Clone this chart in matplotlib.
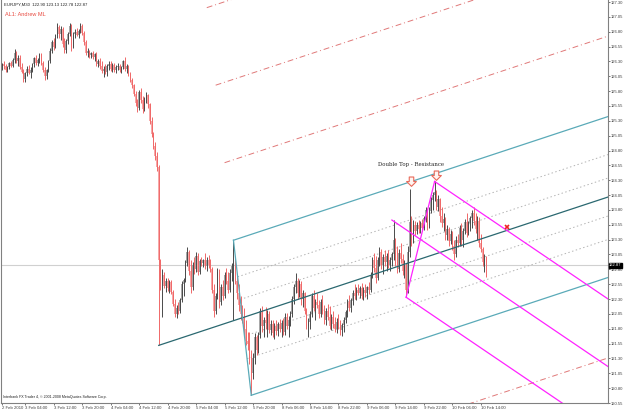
import matplotlib
matplotlib.use('Agg')
import matplotlib.pyplot as plt
import matplotlib.transforms as mtransforms
from matplotlib.path import Path
import numpy as np

# EURJPY M30 bars, 2 Feb 2010 - 10 Feb 2010
bar_open = [
    126.20, 126.25, 126.22, 126.15, 126.20, 126.27, 126.22, 126.33, 126.45, 126.30,
    126.36, 126.20, 126.12, 126.00, 126.10, 126.18, 126.10, 126.16, 126.25, 126.35,
    126.28, 126.32, 126.42, 126.27, 126.15, 126.05, 126.15, 126.30, 126.48, 126.62,
    126.55, 126.74, 126.88, 126.76, 126.85, 126.60, 126.50, 126.65, 126.76, 126.90,
    126.55, 126.76, 126.80, 126.75, 126.82, 126.90, 126.78, 126.62, 126.45, 126.48,
    126.40, 126.44, 126.38, 126.42, 126.26, 126.30, 126.22, 126.14, 126.18, 126.12,
    126.22, 126.26, 126.18, 126.24, 126.15, 126.20, 126.22, 126.16, 126.20, 126.30,
    126.18, 126.22, 126.08, 125.98, 125.90, 125.76, 125.60, 125.52, 125.78, 125.65,
    125.50, 125.66, 125.74, 125.58, 125.30, 125.08, 124.88, 124.70, 124.52, 122.95,
    122.60, 122.70, 122.52, 122.60, 122.48, 122.58, 122.42, 122.22, 122.05, 122.15,
    122.10, 122.28, 122.55, 122.62, 122.90, 123.10, 122.78, 122.50, 122.88, 122.80,
    123.02, 122.76, 122.94, 122.90, 122.95, 122.85, 122.96, 122.88, 122.80, 122.45,
    122.10, 122.35, 122.75, 122.25, 122.50, 122.35, 122.70, 122.60, 122.45, 122.74,
    122.85, 122.95, 122.60, 122.40, 122.20, 122.05, 121.98, 121.80, 121.60, 121.55,
    121.30, 121.05, 121.30, 121.66, 121.45, 121.70, 122.10, 121.85, 121.95, 121.90,
    122.05, 121.78, 121.88, 121.72, 121.85, 121.76, 121.88, 121.80, 121.90, 121.75,
    122.00, 121.85, 121.95, 122.05, 122.30, 122.50, 122.60, 122.40, 122.55, 122.30,
    122.40, 122.10, 121.85, 121.92, 122.05, 122.35, 122.15, 122.25, 122.20, 122.05,
    122.25, 122.10, 121.95, 122.10, 122.00, 121.85, 122.00, 121.88, 121.80, 121.92,
    121.85, 121.78, 121.86, 121.95, 122.08, 122.25, 122.15, 122.28, 122.40, 122.35,
    122.46, 122.40, 122.48, 122.35, 122.45, 122.40, 122.50, 122.45, 122.70, 122.95,
    122.82, 122.65, 122.95, 123.10, 122.88, 123.00, 122.92, 123.02, 122.88, 122.95,
    123.05, 123.30, 122.95, 122.80, 123.08, 122.98, 122.78, 122.88, 122.45, 123.10,
    123.60, 123.30, 123.55, 123.45, 123.55, 123.48, 123.58, 123.50, 123.66, 123.80,
    123.55, 123.78, 123.96, 124.05, 124.10, 123.85, 123.98, 123.70, 123.58, 123.65,
    123.38, 123.48, 123.28, 123.40, 123.20, 123.05, 123.30, 123.25, 123.50, 123.30,
    123.45, 123.60, 123.42, 123.58, 123.66, 123.75, 123.62, 123.48, 123.62, 123.25,
    123.15, 122.92, 122.98,
]
bar_high = [
    126.28, 126.30, 126.26, 126.22, 126.29, 126.30, 126.35, 126.51, 126.48, 126.40,
    126.40, 126.27, 126.18, 126.12, 126.22, 126.24, 126.20, 126.28, 126.38, 126.40,
    126.36, 126.45, 126.44, 126.30, 126.20, 126.18, 126.32, 126.52, 126.66, 126.70,
    126.77, 126.94, 126.92, 126.90, 126.88, 126.70, 126.68, 126.80, 126.95, 126.93,
    126.80, 126.84, 126.86, 126.84, 126.95, 126.93, 126.82, 126.66, 126.52, 126.50,
    126.46, 126.48, 126.45, 126.46, 126.34, 126.36, 126.30, 126.22, 126.26, 126.25,
    126.30, 126.30, 126.28, 126.28, 126.24, 126.28, 126.26, 126.22, 126.33, 126.37,
    126.26, 126.24, 126.12, 126.02, 125.92, 125.80, 125.66, 125.82, 125.86, 125.72,
    125.70, 125.78, 125.76, 125.60, 125.36, 125.12, 124.95, 124.78, 124.55, 122.98,
    122.80, 122.75, 122.65, 122.66, 122.62, 122.62, 122.45, 122.30, 122.20, 122.25,
    122.32, 122.60, 122.66, 122.95, 123.17, 123.12, 122.96, 122.92, 123.00, 123.09,
    123.08, 122.98, 123.00, 122.98, 123.07, 123.00, 123.04, 122.98, 122.84, 122.55,
    122.40, 122.83, 122.80, 122.55, 122.62, 122.76, 122.83, 122.75, 122.80, 122.90,
    123.29, 123.00, 122.72, 122.55, 122.35, 122.20, 122.15, 121.95, 121.75, 121.75,
    121.45, 121.40, 121.72, 121.70, 121.75, 122.15, 122.18, 122.00, 122.16, 122.11,
    122.10, 121.94, 121.95, 121.90, 121.94, 121.92, 121.96, 121.94, 121.98, 122.06,
    122.06, 122.02, 122.10, 122.35, 122.55, 122.73, 122.66, 122.62, 122.60, 122.45,
    122.42, 122.15, 121.98, 122.10, 122.40, 122.45, 122.30, 122.40, 122.28, 122.30,
    122.36, 122.20, 122.15, 122.22, 122.18, 122.05, 122.10, 122.00, 121.98, 122.05,
    121.95, 121.90, 122.00, 122.12, 122.30, 122.36, 122.32, 122.45, 122.55, 122.50,
    122.56, 122.52, 122.57, 122.50, 122.55, 122.52, 122.58, 122.75, 123.00, 123.07,
    123.02, 123.00, 123.17, 123.15, 123.05, 123.12, 123.08, 123.12, 123.00, 123.10,
    123.63, 123.32, 123.20, 123.15, 123.24, 123.05, 122.95, 122.90, 123.20, 124.16,
    123.70, 123.63, 123.62, 123.60, 123.63, 123.62, 123.64, 123.70, 123.85, 123.84,
    123.85, 124.01, 124.10, 124.28, 124.13, 124.05, 124.00, 123.85, 123.74, 123.68,
    123.55, 123.52, 123.46, 123.44, 123.30, 123.36, 123.40, 123.55, 123.58, 123.50,
    123.65, 123.74, 123.62, 123.70, 123.80, 123.85, 123.74, 123.70, 123.68, 123.40,
    123.18, 123.05, 123.02,
]
bar_low = [
    126.15, 126.18, 126.12, 126.12, 126.17, 126.20, 126.20, 126.28, 126.27, 126.22,
    126.18, 126.10, 125.95, 125.96, 126.05, 126.08, 126.02, 126.12, 126.20, 126.24,
    126.22, 126.28, 126.24, 126.12, 125.98, 126.00, 126.12, 126.28, 126.44, 126.50,
    126.52, 126.70, 126.70, 126.66, 126.55, 126.45, 126.44, 126.60, 126.72, 126.48,
    126.52, 126.70, 126.72, 126.70, 126.78, 126.74, 126.58, 126.40, 126.38, 126.36,
    126.35, 126.34, 126.30, 126.22, 126.20, 126.18, 126.10, 126.03, 126.08, 126.06,
    126.15, 126.14, 126.12, 126.12, 126.10, 126.16, 126.12, 126.10, 126.18, 126.14,
    126.10, 126.05, 125.95, 125.86, 125.72, 125.55, 125.45, 125.48, 125.60, 125.43,
    125.46, 125.60, 125.52, 125.25, 125.02, 124.82, 124.64, 124.45, 121.52, 122.45,
    122.00, 122.48, 122.42, 122.44, 122.40, 122.38, 122.18, 122.00, 121.98, 122.05,
    122.06, 122.25, 122.35, 122.58, 122.85, 122.70, 122.40, 122.45, 122.72, 122.76,
    122.70, 122.72, 122.85, 122.84, 122.80, 122.78, 122.82, 122.76, 122.40, 121.99,
    122.05, 122.30, 122.15, 122.20, 122.28, 122.32, 122.55, 122.40, 122.42, 122.60,
    121.95, 122.55, 122.30, 122.10, 121.94, 121.90, 121.70, 121.52, 121.44, 121.20,
    120.68, 120.95, 121.20, 121.35, 121.40, 121.65, 121.75, 121.66, 121.80, 121.66,
    121.72, 121.70, 121.66, 121.62, 121.70, 121.68, 121.74, 121.66, 121.70, 121.70,
    121.80, 121.66, 121.85, 122.00, 122.22, 122.40, 122.30, 122.34, 122.20, 122.16,
    122.05, 121.80, 121.66, 121.80, 122.00, 122.10, 121.95, 122.15, 121.98, 122.00,
    122.05, 121.88, 121.86, 121.95, 121.80, 121.78, 121.82, 121.75, 121.72, 121.80,
    121.70, 121.68, 121.75, 121.90, 122.00, 122.10, 122.08, 122.20, 122.30, 122.28,
    122.36, 122.32, 122.30, 122.28, 122.33, 122.30, 122.38, 122.42, 122.65, 122.75,
    122.57, 122.62, 122.85, 122.80, 122.72, 122.85, 122.78, 122.82, 122.78, 122.85,
    122.95, 122.85, 122.73, 122.76, 122.90, 122.70, 122.65, 122.33, 122.40, 123.00,
    123.20, 123.25, 123.38, 123.40, 123.41, 123.42, 123.45, 123.46, 123.60, 123.46,
    123.50, 123.74, 123.80, 123.95, 123.80, 123.78, 123.60, 123.51, 123.45, 123.30,
    123.30, 123.20, 123.22, 123.12, 122.95, 123.00, 123.17, 123.20, 123.20, 123.17,
    123.40, 123.35, 123.38, 123.44, 123.50, 123.55, 123.41, 123.30, 123.17, 123.10,
    122.85, 122.75, 122.67,
]
bar_close = [
    126.25, 126.22, 126.15, 126.20, 126.27, 126.22, 126.33, 126.45, 126.30, 126.36,
    126.20, 126.12, 126.00, 126.10, 126.18, 126.10, 126.16, 126.25, 126.35, 126.28,
    126.32, 126.42, 126.27, 126.15, 126.05, 126.15, 126.30, 126.48, 126.62, 126.55,
    126.74, 126.88, 126.76, 126.85, 126.60, 126.50, 126.65, 126.76, 126.90, 126.55,
    126.76, 126.80, 126.75, 126.82, 126.90, 126.78, 126.62, 126.45, 126.48, 126.40,
    126.44, 126.38, 126.42, 126.26, 126.30, 126.22, 126.14, 126.18, 126.12, 126.22,
    126.26, 126.18, 126.24, 126.15, 126.20, 126.22, 126.16, 126.20, 126.30, 126.18,
    126.22, 126.08, 125.98, 125.90, 125.76, 125.60, 125.52, 125.78, 125.65, 125.50,
    125.66, 125.74, 125.58, 125.30, 125.08, 124.88, 124.70, 124.52, 122.95, 122.60,
    122.70, 122.52, 122.60, 122.48, 122.58, 122.42, 122.22, 122.05, 122.15, 122.10,
    122.28, 122.55, 122.62, 122.90, 123.10, 122.78, 122.50, 122.88, 122.80, 123.02,
    122.76, 122.94, 122.90, 122.95, 122.85, 122.96, 122.88, 122.80, 122.45, 122.10,
    122.35, 122.75, 122.25, 122.50, 122.35, 122.70, 122.60, 122.45, 122.74, 122.85,
    122.95, 122.60, 122.40, 122.20, 122.05, 121.98, 121.80, 121.60, 121.55, 121.30,
    121.05, 121.30, 121.66, 121.45, 121.70, 122.10, 121.85, 121.95, 121.90, 122.05,
    121.78, 121.88, 121.72, 121.85, 121.76, 121.88, 121.80, 121.90, 121.75, 122.00,
    121.85, 121.95, 122.05, 122.30, 122.50, 122.60, 122.40, 122.55, 122.30, 122.40,
    122.10, 121.85, 121.92, 122.05, 122.35, 122.15, 122.25, 122.20, 122.05, 122.25,
    122.10, 121.95, 122.10, 122.00, 121.85, 122.00, 121.88, 121.80, 121.92, 121.85,
    121.78, 121.86, 121.95, 122.08, 122.25, 122.15, 122.28, 122.40, 122.35, 122.46,
    122.40, 122.48, 122.35, 122.45, 122.40, 122.50, 122.45, 122.70, 122.95, 122.82,
    122.65, 122.95, 123.10, 122.88, 123.00, 122.92, 123.02, 122.88, 122.95, 123.05,
    123.30, 122.95, 122.80, 123.08, 122.98, 122.78, 122.88, 122.45, 123.10, 123.60,
    123.30, 123.55, 123.45, 123.55, 123.48, 123.58, 123.50, 123.66, 123.80, 123.55,
    123.78, 123.96, 124.05, 124.10, 123.85, 123.98, 123.70, 123.58, 123.65, 123.38,
    123.48, 123.28, 123.40, 123.20, 123.05, 123.30, 123.25, 123.50, 123.30, 123.45,
    123.60, 123.42, 123.58, 123.66, 123.75, 123.62, 123.48, 123.62, 123.25, 123.15,
    122.92, 122.98, 122.87,
]

# time axis labels (bar index -> label)
x_tick_pos = [0, 13, 29, 45, 61, 77, 93, 109, 125, 141, 157, 173, 189, 205, 221, 237, 253, 269]
x_tick_lbl = ['2 Feb 2010', '3 Feb 04:00', '3 Feb 12:00', '3 Feb 20:00', '4 Feb 04:00',
              '4 Feb 12:00', '4 Feb 20:00', '5 Feb 04:00', '5 Feb 12:00', '5 Feb 20:00',
              '8 Feb 06:00', '8 Feb 14:00', '8 Feb 22:00', '9 Feb 06:00', '9 Feb 14:00',
              '9 Feb 22:00', '10 Feb 06:00', '10 Feb 14:00']
y_ticks = [127.30, 127.05, 126.80, 126.55, 126.30, 126.05, 125.80, 125.55, 125.30,
           125.05, 124.80, 124.55, 124.30, 124.05, 123.80, 123.55, 123.30, 123.05,
           122.80, 122.55, 122.30, 122.05, 121.80, 121.55, 121.30, 121.05, 120.80, 120.55]
last_price = 122.87

# pitchfork anchors (bar index, price)
teal_idx = [88, 130, 140]
teal_px = [121.52, 123.29, 120.68]
mag_idx = [219, 243, 227]
mag_px = [123.63, 124.28, 122.33]
fib_inner = [0.236, 0.382, 0.618, 0.764]
fib_outer = [-1.5, -1.0, -0.5, 1.5]

o = np.array(bar_open); h = np.array(bar_high)
l = np.array(bar_low); c = np.array(bar_close)
idx = np.arange(len(c))
up = c >= o

fig = plt.figure(figsize=(6.25, 4.15), dpi=100)
ax = fig.add_axes([1/625, 12/415, 607/625, 403/415])
x_right = -0.6 + 607/1.78
ax.set_xlim(-0.6, x_right)
ax.set_ylim(120.55, 127.334)

ax.axhline(last_price, color='#d0d0d0', lw=0.8, zorder=1)

# bars
ax.vlines(idx[up], l[up], h[up], color='#4a4a4a', lw=0.7, zorder=3)
ax.vlines(idx[~up], l[~up], h[~up], color='#f06868', lw=0.7, zorder=3)
ax.bar(idx[up], c[up] - o[up], bottom=o[up], width=0.8, color='#a8a8a8', zorder=2)
ax.bar(idx[~up], o[~up] - c[~up], bottom=c[~up], width=0.8, color='#f6a8a8', zorder=2)


def pitchfork(xs, ps, color, mcolor, levels=()):
    x1, x2, x3 = xs
    p1, p2, p3 = ps
    mx, mp = (x2 + x3) / 2, (p2 + p3) / 2
    slope = (mp - p1) / (mx - x1)
    # median
    ax.plot([x1, x_right], [p1, p1 + slope * (x_right - x1)], color=mcolor, lw=0.9, zorder=4)
    # handle
    ax.plot([x2, x3], [p2, p3], color=color, lw=0.9, zorder=4)
    for f in [0.0, 1.0]:
        sx, sp = x2 + f * (x3 - x2), p2 + f * (p3 - p2)
        ax.plot([sx, x_right], [sp, sp + slope * (x_right - sx)], color=color, lw=0.9, zorder=4)
    for f, st in levels:
        sx, sp = x2 + f * (x3 - x2), p2 + f * (p3 - p2)
        ax.plot([sx, x_right], [sp, sp + slope * (x_right - sx)], zorder=1, **st)


dot = dict(color='#b4b4b4', lw=0.7, ls=(0, (1.5, 2.5)))
dashdot = dict(color='#e07878', lw=0.7, ls=(0, (6, 3, 1, 3)))
lv = [(f, dot) for f in fib_inner] + [(f, dashdot) for f in fib_outer]
pitchfork(teal_idx, teal_px, '#5aaab8', '#2a6870', lv)
pitchfork(mag_idx, mag_px, '#ff22ff', '#ff22ff')

# annotations
ax.text(211, 124.57, 'Double Top - Resistance', family='DejaVu Serif', fontsize=3.9,
        va='center', ha='left', color='#202020', zorder=6)
arrow = Path([(-0.3, 0.6), (0.3, 0.6), (0.3, 0.0), (0.65, 0.0), (0.0, -0.65),
              (-0.65, 0.0), (-0.3, 0.0), (-0.3, 0.6)],
             [Path.MOVETO] + [Path.LINETO] * 6 + [Path.CLOSEPOLY])
ax.plot([229.5, 244], [124.29, 124.38], ls='none', marker=arrow, ms=7, mfc='#fff4f0',
        mec='#e86a5a', mew=0.8, zorder=6)
ax.plot([283.5], [123.52], marker='x', color='#ee2222', ms=3.5, mew=1.2, zorder=6)

# frame / axes
ax.spines['top'].set_visible(False)
for s in ['left', 'bottom', 'right']:
    ax.spines[s].set_color('#808080')
    ax.spines[s].set_linewidth(0.8)
ax.yaxis.tick_right()
ax.set_yticks(y_ticks)
ax.set_yticklabels(['%.2f' % v for v in y_ticks], family='Liberation Sans')
ax.tick_params(axis='y', labelsize=3.0, length=1.5, width=0.5, pad=0.8, colors='#404040')
ax.set_xticks(x_tick_pos)
ax.set_xticklabels(x_tick_lbl, family='Liberation Sans')
ax.tick_params(axis='x', labelsize=3.1, length=1.5, width=0.5, pad=1, colors='#404040')
for t in ax.get_xticklabels():
    t.set_ha('left')

trans = mtransforms.blended_transform_factory(ax.transAxes, ax.transData)
ax.text(1.002, last_price, '%.2f' % last_price, transform=trans, fontsize=3.0,
        family='Liberation Sans', color='white', va='center', ha='left',
        bbox=dict(boxstyle='square,pad=0.12', fc='black', ec='black'), zorder=7, clip_on=False)

fig.text(4/625, 1 - 5/415, 'EURJPY,M30  122.90 123.13 122.78 122.87', fontsize=3.1,
         family='Liberation Sans', va='center', ha='left', color='#202020')
fig.text(5/625, 1 - 15/415, 'AL1: Andrew ML', fontsize=4.0, family='Liberation Sans',
         va='center', ha='left', color='#e84a40')
fig.text(3/625, 1 - 397/415, 'Interbank FX Trader 4, \u00a9 2001-2008 MetaQuotes Software Corp.',
         fontsize=2.6, family='Liberation Sans', va='center', ha='left', color='#202020')

fig.savefig('out.png', dpi=100, facecolor='white')
